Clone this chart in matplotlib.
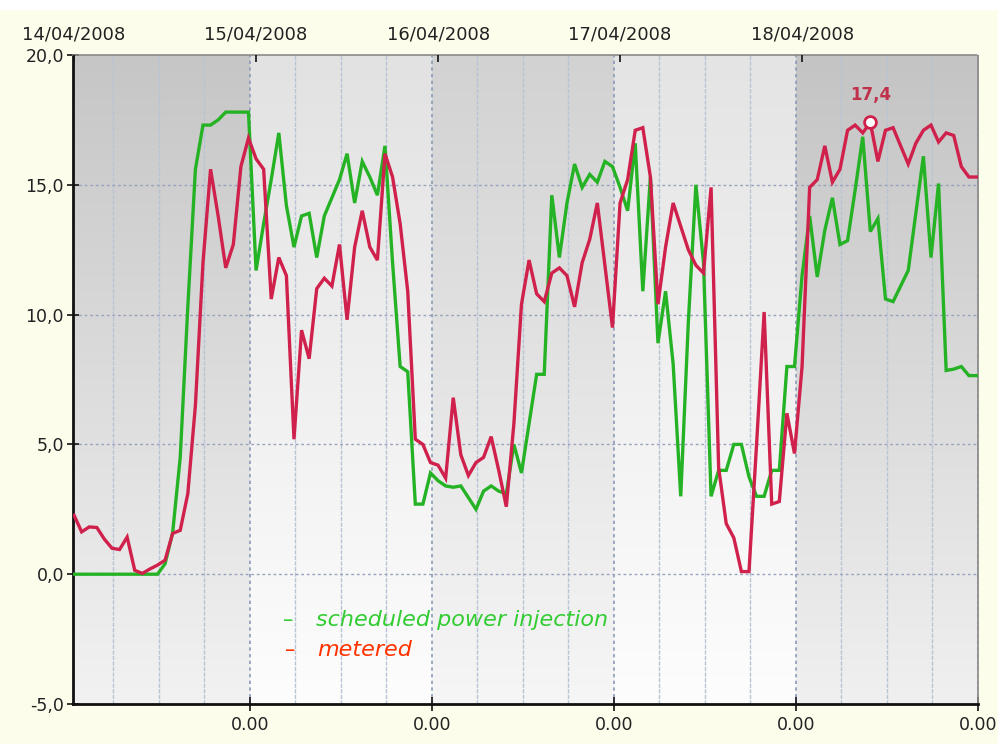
import numpy as np
import matplotlib
matplotlib.use("Agg")
import matplotlib.pyplot as plt
from matplotlib.patches import Rectangle

# ---------------- data (hourly values, first sample 14/04/2008 ~00:48) ----------------
start_hour = 0.8
scheduled = [0, 0, 0, 0, 0, 0, 0, 0, 0, 0, 0, 0,
             0.4, 1.6, 4.5, 10.3, 15.6, 17.3, 17.3, 17.5, 17.8, 17.8, 17.8, 17.8,
             11.7, 13.5, 15.2, 17.0, 14.2, 12.6, 13.8, 13.9, 12.2, 13.8, 14.5, 15.2,
             16.2, 14.3, 15.9, 15.3, 14.6, 16.5, 12.0, 8.0, 7.8, 2.7, 2.7, 3.9,
             3.6, 3.4, 3.35, 3.4, 2.95, 2.5, 3.2, 3.4, 3.2, 3.1, 5.0, 3.9,
             5.8, 7.7, 7.7, 14.6, 12.2, 14.3, 15.8, 14.9, 15.4, 15.1, 15.9, 15.7,
             14.9, 14.0, 16.6, 10.9, 15.3, 8.9, 10.9, 8.1, 3.0, 9.7, 15.0, 12.0,
             3.0, 4.0, 4.0, 5.0, 5.0, 3.75, 3.0, 3.0, 4.0, 4.0, 8.0, 8.0,
             11.5, 13.8, 11.45, 13.25, 14.5, 12.7, 12.85, 14.8, 16.85, 13.2, 13.7, 10.6,
             10.5, 11.1, 11.7, 13.9, 16.1, 12.2, 15.05, 7.85, 7.9, 8.0, 7.65, 7.65]
metered = [2.27, 1.63, 1.82, 1.8, 1.35, 1.0, 0.95, 1.43, 0.15, 0.03, 0.2, 0.35,
           0.54, 1.57, 1.69, 3.1, 6.5, 12.0, 15.6, 13.8, 11.8, 12.7, 15.7, 16.8,
           16.0, 15.6, 10.6, 12.2, 11.5, 5.2, 9.4, 8.3, 11.0, 11.4, 11.1, 12.7,
           9.8, 12.6, 14.0, 12.6, 12.1, 16.2, 15.3, 13.5, 10.9, 5.2, 5.0, 4.3,
           4.2, 3.7, 6.8, 4.6, 3.8, 4.3, 4.5, 5.3, 4.0, 2.6, 5.8, 10.4,
           12.1, 10.8, 10.5, 11.6, 11.8, 11.5, 10.3, 12.0, 12.9, 14.3, 11.9, 9.5,
           14.3, 15.2, 17.1, 17.2, 15.3, 10.4, 12.6, 14.3, 13.4, 12.5, 11.9, 11.6,
           14.9, 4.1, 1.95, 1.4, 0.1, 0.1, 5.0, 10.1, 2.7, 2.8, 6.2, 4.65,
           8.0, 14.9, 15.2, 16.5, 15.1, 15.6, 17.1, 17.3, 17.0, 17.4, 15.9, 17.1,
           17.2, 16.5, 15.8, 16.6, 17.1, 17.3, 16.65, 17.0, 16.9, 15.7, 15.3, 15.3]
day_labels = ["14/04/2008", "15/04/2008", "16/04/2008", "17/04/2008", "18/04/2008"]
midnight_label = "0.00"
y_ticks = [-5, 0, 5, 10, 15, 20]
series_names = ["scheduled power injection", "metered"]
peak_label = "17,4"

hours = start_hour + np.arange(len(metered))

# ---------------- figure ----------------
W, H = 998, 744
fig = plt.figure(figsize=(W / 100, H / 100), dpi=100)
fig.patch.set_facecolor("#fdfdec")
fig.patches.append(Rectangle((0, 1 - 10 / H), 1, 10 / H, transform=fig.transFigure,
                             facecolor="white", edgecolor="none", zorder=0))

ax = fig.add_axes([73 / W, 40 / H, 905 / W, 649 / H])
x0, x1 = 0.66, 120.0
y0, y1 = -5, 20
ax.set_xlim(x0, x1)
ax.set_ylim(y0, y1)

# day bands with vertical gradients
def band(xa, xb, top, bottom):
    n = 256
    t = np.linspace(0, 1, n)[:, None]
    top = np.array(matplotlib.colors.to_rgb(top))
    bottom = np.array(matplotlib.colors.to_rgb(bottom))
    img = top[None, None, :] * (1 - t[:, :, None]) + bottom[None, None, :] * t[:, :, None]
    ax.imshow(img, extent=(xa, xb, y0, y1), aspect="auto", origin="upper",
              zorder=0, interpolation="bilinear")

bands = [(x0, 24, "#c6c6c6", "#f2f2f2"),
         (24, 48, "#e2e2e2", "#fdfdfd"),
         (48, 72, "#d2d2d2", "#f6f6f6"),
         (72, 96, "#e4e4e4", "#fdfdfd"),
         (96, x1, "#c4c4c4", "#f0f0f0")]
for xa, xb, tc, bc in bands:
    band(xa, xb, tc, bc)

# grid
for h in range(6, 121, 6):
    if h % 24 == 0:
        ax.axvline(h, color="#8c9ab8", lw=1.2, ls=(0, (2, 2)), zorder=1)
    else:
        ax.axvline(h, color="#b9c3d6", lw=1.0, ls=(0, (3, 1)), zorder=1)
for yv in y_ticks[1:-1]:
    ax.axhline(yv, color="#99a3bd", lw=1.0, ls=(0, (2, 2)), zorder=1)

# series
ax.plot(hours, scheduled, color="#25b325", lw=2.4, zorder=3, solid_joinstyle="miter")
ax.plot(hours, metered, color="#d0204c", lw=2.4, zorder=4, solid_joinstyle="miter")

# peak marker
ip = int(np.argmax(metered))
ax.plot(hours[ip], metered[ip], "o", ms=8.5, mfc="white", mec="#d0204c", mew=2, zorder=5)
ax.annotate(peak_label, (hours[ip], metered[ip]), xytext=(0, 13), textcoords="offset points",
            ha="center", va="bottom", color="#c0304a", fontsize=12, fontweight="bold", zorder=6)

# spines
for s in ["left", "bottom"]:
    ax.spines[s].set_color("#111111")
    ax.spines[s].set_linewidth(2)
for s in ["top", "right"]:
    ax.spines[s].set_color("#8a8a8a")
    ax.spines[s].set_linewidth(1.2)
    ax.spines[s].set_linestyle((0, (2, 1)))

# y axis
ax.set_yticks(y_ticks)
ax.set_yticklabels([f"{v:.1f}".replace(".", ",") for v in y_ticks])
ax.tick_params(axis="y", direction="inout", length=9, width=1.2, color="#111111",
               labelsize=12.5, labelcolor="#222222", pad=2)

# bottom x axis: midnights
mids = [24, 48, 72, 96, 120]
ax.set_xticks(mids)
ax.set_xticklabels([midnight_label] * len(mids))
ax.tick_params(axis="x", direction="inout", length=10, width=1.2, color="#111111",
               labelsize=12.5, labelcolor="#222222", pad=4)

# top axis: dates at first sample of each day
axt = ax.twiny()
axt.set_xlim(x0, x1)
axt.set_xticks([start_hour + 24 * d for d in range(5)])
axt.set_xticklabels(day_labels)
axt.tick_params(axis="x", direction="in", length=5, width=1.2, color="#111111",
                labelsize=13, labelcolor="#222222", pad=8)
for s in axt.spines.values():
    s.set_visible(False)

# legend text
ax.text(0.232, 0.129, "–", transform=ax.transAxes, color="#33cc33", fontsize=15,
        ha="left", va="center")
ax.text(0.268, 0.129, series_names[0], transform=ax.transAxes, color="#33cc33",
        fontsize=16, style="italic", ha="left", va="center")
ax.text(0.234, 0.083, "–", transform=ax.transAxes, color="#ff3300", fontsize=15,
        ha="left", va="center")
ax.text(0.27, 0.083, series_names[1], transform=ax.transAxes, color="#ff3300",
        fontsize=16, style="italic", ha="left", va="center")

fig.savefig("out.png", dpi=100, facecolor=fig.get_facecolor())
